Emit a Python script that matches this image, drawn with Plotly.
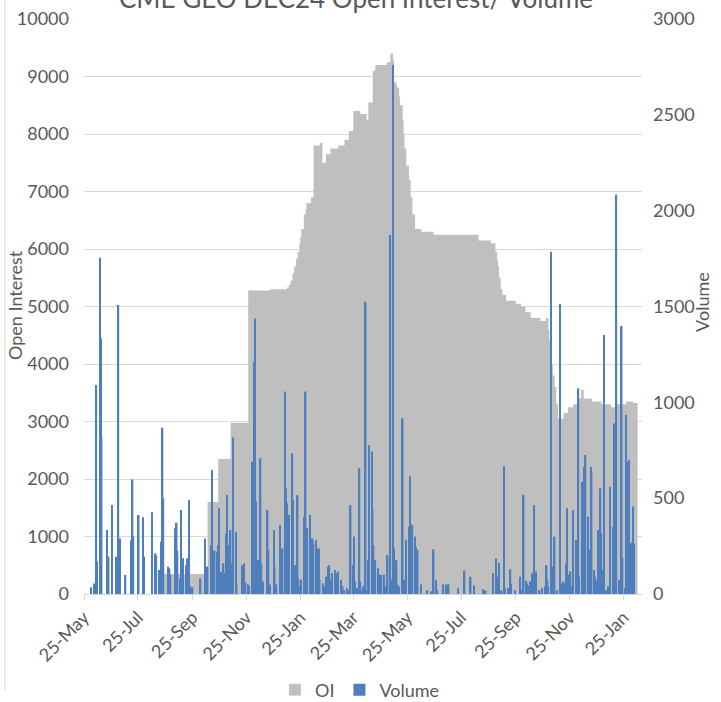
import plotly.graph_objects as go

# Open interest: level changes (the value holds until the next date)
oi_dates = [
    "2023-05-25", "2023-08-23", "2023-10-12", "2023-10-24", "2023-11-07", "2023-11-27",
    "2023-12-22", "2024-01-10", "2024-01-12", "2024-01-14", "2024-01-16", "2024-01-18",
    "2024-01-20", "2024-01-22", "2024-01-24", "2024-01-25", "2024-01-26", "2024-01-29",
    "2024-01-31", "2024-02-01", "2024-02-06", "2024-02-09", "2024-02-16", "2024-02-19",
    "2024-02-23", "2024-02-28", "2024-03-08", "2024-03-15", "2024-03-20", "2024-03-25",
    "2024-04-02", "2024-04-09", "2024-04-11", "2024-04-16", "2024-04-19", "2024-05-02",
    "2024-05-06", "2024-05-09", "2024-05-10", "2024-05-13", "2024-05-14", "2024-05-16",
    "2024-05-17", "2024-05-20", "2024-05-21", "2024-05-22", "2024-05-24", "2024-05-27",
    "2024-05-29", "2024-05-31", "2024-06-03", "2024-06-10", "2024-06-24", "2024-08-14",
    "2024-08-28", "2024-09-02", "2024-09-04", "2024-09-05", "2024-09-06", "2024-09-08",
    "2024-09-10", "2024-09-14", "2024-09-25", "2024-10-01", "2024-10-06", "2024-10-12",
    "2024-10-23", "2024-10-29", "2024-11-01", "2024-11-02", "2024-11-04", "2024-11-05",
    "2024-11-06", "2024-11-08", "2024-11-10", "2024-11-12", "2024-11-18", "2024-11-23",
    "2024-11-29", "2024-12-05", "2024-12-08", "2024-12-11", "2024-12-20", "2024-12-31",
    "2025-01-11", "2025-01-17", "2025-01-28", "2025-02-05", "2025-02-10",
]
oi_values = [
    0, 350, 1600, 2350, 2980, 5280,
    5300, 5330, 5380, 5450, 5580, 5700,
    5830, 5950, 6100, 6200, 6350, 6600,
    6700, 6800, 6900, 7800, 7850, 7500,
    7650, 7750, 7800, 7900, 8050, 8400,
    8350, 8250, 8550, 9100, 9200, 9250,
    9400, 9300, 8900, 8850, 8800, 8650,
    8500, 8250, 8000, 7750, 7450, 7200,
    6900, 6600, 6350, 6300, 6250, 6150,
    6100, 5950, 5800, 5700, 5500, 5300,
    5200, 5100, 5050, 5000, 4900, 4800,
    4750, 4800, 4600, 4400, 4200, 4000,
    3800, 3600, 3300, 3050, 3150, 3250,
    3300, 3400, 3550, 3400, 3350, 3300,
    3250, 3300, 3350, 3320, 3320,
]

# Daily traded volume
vol_dates = [
    "2023-06-02", "2023-06-06", "2023-06-08", "2023-06-09", "2023-06-12", "2023-06-13",
    "2023-06-14", "2023-06-20", "2023-06-22", "2023-06-26", "2023-06-30", "2023-07-03",
    "2023-07-05", "2023-07-11", "2023-07-18", "2023-07-19", "2023-07-20", "2023-07-26",
    "2023-07-31", "2023-08-01", "2023-08-10", "2023-08-14", "2023-08-15", "2023-08-18",
    "2023-08-21", "2023-08-22", "2023-08-23", "2023-08-28", "2023-08-29", "2023-08-30",
    "2023-08-31", "2023-09-05", "2023-09-06", "2023-09-07", "2023-09-08", "2023-09-11",
    "2023-09-12", "2023-09-13", "2023-09-14", "2023-09-18", "2023-09-19", "2023-09-20",
    "2023-09-21", "2023-09-22", "2023-09-25", "2023-10-04", "2023-10-09", "2023-10-10",
    "2023-10-12", "2023-10-16", "2023-10-17", "2023-10-18", "2023-10-19", "2023-10-20",
    "2023-10-23", "2023-10-24", "2023-10-25", "2023-10-27", "2023-10-30", "2023-10-31",
    "2023-11-02", "2023-11-03", "2023-11-06", "2023-11-07", "2023-11-08", "2023-11-09",
    "2023-11-10", "2023-11-13", "2023-11-14", "2023-11-20", "2023-11-21", "2023-11-22",
    "2023-11-24", "2023-11-27", "2023-11-28", "2023-12-01", "2023-12-04", "2023-12-05",
    "2023-12-06", "2023-12-08", "2023-12-11", "2023-12-12", "2023-12-14", "2023-12-18",
    "2023-12-19", "2023-12-20", "2023-12-22", "2023-12-26", "2023-12-27", "2023-12-29",
    "2024-01-02", "2024-01-03", "2024-01-04", "2024-01-05", "2024-01-08", "2024-01-09",
    "2024-01-10", "2024-01-11", "2024-01-12", "2024-01-16", "2024-01-17", "2024-01-18",
    "2024-01-19", "2024-01-22", "2024-01-23", "2024-01-25", "2024-01-26", "2024-01-29",
    "2024-01-30", "2024-01-31", "2024-02-01", "2024-02-02", "2024-02-05", "2024-02-06",
    "2024-02-07", "2024-02-08", "2024-02-09", "2024-02-12", "2024-02-13", "2024-02-15",
    "2024-02-16", "2024-02-20", "2024-02-22", "2024-02-23", "2024-02-26", "2024-02-27",
    "2024-02-29", "2024-03-01", "2024-03-04", "2024-03-06", "2024-03-07", "2024-03-08",
    "2024-03-11", "2024-03-13", "2024-03-15", "2024-03-18", "2024-03-19", "2024-03-22",
    "2024-03-25", "2024-03-26", "2024-03-27", "2024-03-29", "2024-04-01", "2024-04-02",
    "2024-04-03", "2024-04-05", "2024-04-08", "2024-04-09", "2024-04-11", "2024-04-12",
    "2024-04-15", "2024-04-16", "2024-04-17", "2024-04-18", "2024-04-19", "2024-04-22",
    "2024-04-23", "2024-04-25", "2024-04-26", "2024-04-29", "2024-04-30", "2024-05-03",
    "2024-05-06", "2024-05-07", "2024-05-09", "2024-05-10", "2024-05-13", "2024-05-14",
    "2024-05-16", "2024-05-20", "2024-05-21", "2024-05-22", "2024-05-24", "2024-05-27",
    "2024-05-28", "2024-05-29", "2024-05-30", "2024-05-31", "2024-06-03", "2024-06-04",
    "2024-06-06", "2024-06-10", "2024-06-17", "2024-06-21", "2024-06-24", "2024-06-27",
    "2024-06-28", "2024-07-05", "2024-07-08", "2024-07-11", "2024-07-22", "2024-07-29",
    "2024-08-05", "2024-08-09", "2024-08-19", "2024-08-22", "2024-08-30", "2024-09-03",
    "2024-09-04", "2024-09-06", "2024-09-09", "2024-09-12", "2024-09-13", "2024-09-16",
    "2024-09-19", "2024-09-20", "2024-09-24", "2024-09-30", "2024-10-01", "2024-10-04",
    "2024-10-07", "2024-10-08", "2024-10-10", "2024-10-11", "2024-10-14", "2024-10-16",
    "2024-10-17", "2024-10-18", "2024-10-22", "2024-10-25", "2024-10-28", "2024-10-30",
    "2024-10-31", "2024-11-01", "2024-11-04", "2024-11-06", "2024-11-07", "2024-11-08",
    "2024-11-11", "2024-11-14", "2024-11-15", "2024-11-18", "2024-11-20", "2024-11-21",
    "2024-11-22", "2024-11-25", "2024-11-26", "2024-11-27", "2024-11-29", "2024-12-02",
    "2024-12-03", "2024-12-05", "2024-12-06", "2024-12-09", "2024-12-10", "2024-12-11",
    "2024-12-12", "2024-12-13", "2024-12-16", "2024-12-17", "2024-12-18", "2024-12-19",
    "2024-12-20", "2024-12-23", "2024-12-24", "2024-12-26", "2024-12-27", "2024-12-30",
    "2024-12-31", "2025-01-02", "2025-01-03", "2025-01-06", "2025-01-08", "2025-01-10",
    "2025-01-13", "2025-01-14", "2025-01-15", "2025-01-16", "2025-01-17", "2025-01-20",
    "2025-01-21", "2025-01-22", "2025-01-23", "2025-01-24", "2025-01-27", "2025-01-28",
    "2025-01-29", "2025-01-31", "2025-02-03", "2025-02-04", "2025-02-05", "2025-02-06",
]
vol_values = [
    35, 55, 1090, 170, 1755, 1334,
    820, 334, 195, 464, 195, 1508,
    290, 100, 280, 598, 300, 412,
    400, 195, 426, 212, 200, 125,
    273, 868, 500, 143, 135, 130,
    100, 343, 212, 372, 226, 80,
    438, 134, 186, 150, 186, 70,
    490, 40, 35, 82, 290, 30,
    143, 255, 647, 220, 212, 226,
    220, 255, 447, 116, 160, 110,
    316, 516, 255, 334, 150, 160,
    817, 325, 50, 150, 45, 160,
    60, 50, 40, 690, 1212, 1438,
    482, 177, 708, 160, 65, 134,
    438, 230, 50, 334, 143, 50,
    360, 186, 65, 238, 1056, 551,
    473, 186, 412, 734, 490, 75,
    151, 516, 80, 40, 75, 403,
    400, 1056, 334, 343, 412, 213,
    80, 290, 264, 282, 238, 238,
    75, 55, 40, 90, 143, 151,
    75, 108, 125, 40, 108, 117,
    75, 40, 20, 30, 20, 464,
    151, 300, 65, 30, 656, 65,
    20, 40, 1525, 20, 177, 777,
    743, 447, 255, 65, 177, 135,
    65, 100, 100, 100, 40, 203,
    1873, 75, 2760, 238, 177, 55,
    40, 917, 50, 75, 282, 351,
    616, 369, 255, 360, 300, 245,
    230, 50, 20, 15, 233, 73,
    20, 50, 50, 50, 30, 122,
    90, 45, 25, 18, 108, 186,
    90, 163, 18, 668, 30, 30,
    129, 55, 20, 90, 20, 517,
    70, 55, 45, 65, 108, 464,
    65, 117, 20, 30, 40, 151,
    75, 40, 1786, 40, 143, 299,
    20, 1513, 55, 65, 55, 160,
    447, 100, 117, 40, 438, 282,
    20, 1073, 90, 586, 20, 247,
    664, 725, 403, 30, 230, 664,
    638, 125, 90, 73, 334, 551,
    317, 125, 1351, 20, 40, 560,
    351, 30, 890, 473, 2085, 75,
    40, 882, 1398, 186, 30, 934,
    690, 700, 264, 270, 456, 264,
]

OI_GRAY = "#BFBFBF"
VOL_BLUE = "#4F7EBD"
TEXT = "#595959"
GRID = "#D9D9D9"
FONT = "Lato, 'Liberation Sans', sans-serif"
DAY_MS = 86400000

fig = go.Figure()

fig.add_trace(go.Scatter(
    x=oi_dates, y=oi_values, mode="lines",
    line=dict(shape="hv", width=0, color=OI_GRAY),
    fill="tozeroy", fillcolor=OI_GRAY,
    name="OI", showlegend=False, hoverinfo="x+y",
))
# square legend key for the open-interest area
fig.add_trace(go.Bar(x=[None], y=[None], name="OI", marker=dict(color=OI_GRAY),
                     yaxis="y2", showlegend=True))
fig.add_trace(go.Bar(
    x=vol_dates, y=vol_values, name="Volume", yaxis="y2",
    marker=dict(color=VOL_BLUE, line=dict(width=0)),
    width=[1.7 * DAY_MS] * len(vol_dates),
))

fig.update_layout(
    width=721, height=702,
    margin=dict(l=84, r=79, t=19, b=108, autoexpand=False),
    paper_bgcolor="white", plot_bgcolor="white",
    font=dict(family=FONT, size=18, color=TEXT),
    barmode="overlay",
    xaxis=dict(
        type="date", range=["2023-05-25", "2025-02-15"],
        tick0="2023-05-25", dtick="M2", tickformat="%d-%b", tickangle=-45,
        ticks="outside", ticklen=5, tickcolor=GRID,
        showline=True, linecolor=GRID, linewidth=1,
        showgrid=False, zeroline=False,
        tickfont=dict(size=18, color=TEXT),
    ),
    yaxis=dict(
        range=[0, 10000], dtick=1000, tickformat="d",
        showgrid=True, gridcolor=GRID, gridwidth=1, zeroline=False,
        ticks="", ticklabelstandoff=14,
        tickfont=dict(size=18, color=TEXT),
    ),
    yaxis2=dict(
        overlaying="y", side="right", range=[0, 3000], dtick=500, tickformat="d",
        showgrid=False, zeroline=False, ticks="", ticklabelstandoff=10,
        tickfont=dict(size=18, color=TEXT),
    ),
    legend=dict(
        orientation="h", x=0.4946, xanchor="center", y=-0.167, yanchor="middle",
        font=dict(size=18, color=TEXT), itemwidth=30, bgcolor="rgba(0,0,0,0)",
        traceorder="normal",
    ),
    annotations=[
        dict(text="CME GEO DEC24 Open Interest/ Volume", xref="paper", yref="paper",
             x=0.487, y=1.036, xanchor="center", yanchor="middle", showarrow=False,
             font=dict(size=26, color=TEXT)),
        dict(text="Open Interest", xref="paper", yref="paper", x=-0.1237, y=0.5026,
             xanchor="center", yanchor="middle", textangle=-90, showarrow=False,
             font=dict(size=18, color=TEXT)),
        dict(text="Volume", xref="paper", yref="paper", x=1.1075, y=0.508,
             xanchor="center", yanchor="middle", textangle=-90, showarrow=False,
             font=dict(size=18, color=TEXT)),
    ],
    shapes=[
        dict(type="line", xref="paper", yref="paper", x0=-0.1416, x1=-0.1416,
             y0=-0.167, y1=1.04, line=dict(color=GRID, width=1)),
    ],
)

fig.write_html("out.html")
